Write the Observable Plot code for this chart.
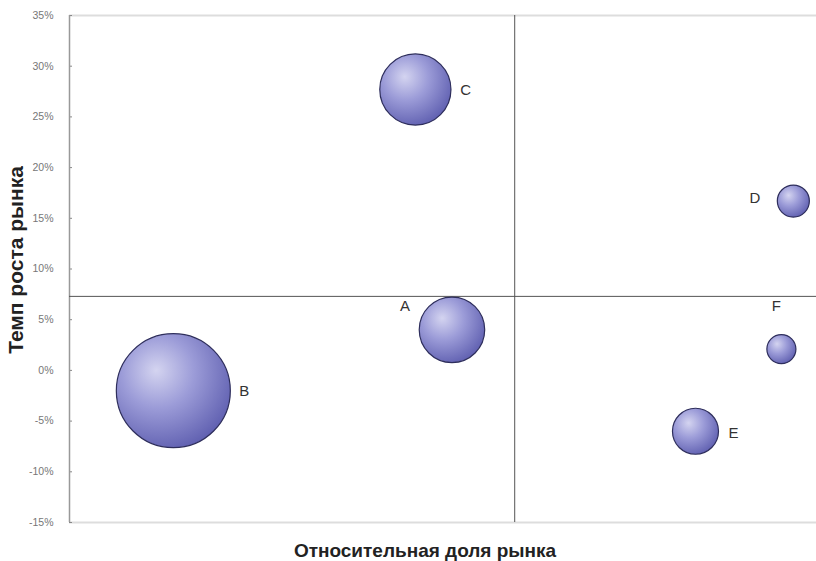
<!DOCTYPE html>
<html><head><meta charset="utf-8">
<script src="https://cdn.jsdelivr.net/npm/d3@7"></script>
<script src="https://cdn.jsdelivr.net/npm/@observablehq/plot@0.6"></script>
<style>body{margin:0;background:#fff;} svg{display:block;}</style>
</head><body><div id="chart"></div>
<script>
const names = ["A", "B", "C", "D", "E", "F"];
const share = [51.2, 13.9, 46.3, 96.9, 83.8, 95.3];      // relative market share (arbitrary units)
const growth = [4.0, -2.0, 27.7, 16.7, -6.0, 2.1];      // market growth, %
const sizes = [33, 100, 39, 7.9, 16.3, 6.5];            // bubble size
const yTicks = [35, 30, 25, 20, 15, 10, 5, 0, -5, -10, -15];
const xSplit = 59.6;
const ySplit = 7.3;

const data = names.map((n, i) => ({name: n, x: share[i], y: growth[i], s: sizes[i]}));

// label placement (style)
const place = {
  A: {dx: -47, dy: -24, anchor: "middle"},
  B: {dx: 66, dy: 1, anchor: "start"},
  C: {dx: 45, dy: 1, anchor: "start"},
  D: {dx: -33, dy: -3, anchor: "end"},
  E: {dx: 33, dy: 2, anchor: "start"},
  F: {dx: -5, dy: -43, anchor: "middle"}
};

const labelMarks = data.map(d => Plot.text([d], {
  x: "x", y: "y", text: "name",
  dx: place[d.name].dx, dy: place[d.name].dy, textAnchor: place[d.name].anchor,
  fontSize: 15, fill: "#333", fontFamily: "Liberation Sans, Arial, sans-serif"
}));

const chart = Plot.plot({
  width: 816,
  height: 561,
  marginTop: 15,
  marginBottom: 39,
  marginLeft: 69,
  marginRight: 0,
  style: {fontFamily: "Liberation Sans, Arial, sans-serif", background: "#fff"},
  x: {domain: [0, 100], axis: null},
  y: {domain: [-15, 35], axis: null},
  r: {domain: [0, 100], range: [0, 57]},
  marks: [
    Plot.ruleY([35], {stroke: "#ddd", strokeWidth: 2}),
    Plot.ruleY([-15], {stroke: "#ddd", strokeWidth: 2}),
    Plot.axisY({ticks: yTicks, tickSize: 0, tickPadding: 16, tickFormat: d => d + "%", fontSize: 10.5, fill: "#777", label: null}),
    Plot.axisY({ticks: yTicks, tickSize: 3, text: null, dx: 3, stroke: "#888", label: null}),
    Plot.ruleX([0], {stroke: "#999", strokeWidth: 1.5}),
    Plot.ruleY([ySplit], {stroke: "#555", strokeWidth: 1}),
    Plot.ruleX([xSplit], {stroke: "#555", strokeWidth: 1}),
    Plot.dot(data, {x: "x", y: "y", r: "s", fill: "url(#bubbleGrad)", stroke: "#2e2e5c", strokeWidth: 1.2, sort: {channel: "-r"}}),
    ...labelMarks
  ]
});

// gradient defs
const svg = d3.select(chart);
const defs = svg.insert("defs", ":first-child");
const g = defs.append("radialGradient").attr("id", "bubbleGrad")
  .attr("cx", "0.38").attr("cy", "0.35").attr("r", "0.7").attr("fx", "0.35").attr("fy", "0.32");
g.append("stop").attr("offset", "0").attr("stop-color", "#d4d4f0");
g.append("stop").attr("offset", "0.45").attr("stop-color", "#9c9cd8");
g.append("stop").attr("offset", "1").attr("stop-color", "#5f5fb0");

const wrap = d3.select("#chart").style("position", "relative").style("width", "816px").style("height", "561px");
wrap.node().appendChild(chart);

// axis titles
wrap.append("div").text("Темп роста рынка")
  .style("position", "absolute").style("left", "16px").style("top", "260px")
  .style("transform", "translate(-50%,-50%) rotate(-90deg)")
  .style("font", "bold 21px 'Liberation Sans', Arial, sans-serif").style("color", "#222").style("white-space", "nowrap");
wrap.append("div").text("Относительная доля рынка")
  .style("position", "absolute").style("left", "425px").style("top", "551px")
  .style("transform", "translate(-50%,-50%)")
  .style("font", "bold 19px 'Liberation Sans', Arial, sans-serif").style("color", "#222").style("white-space", "nowrap");
</script>
</body></html>
